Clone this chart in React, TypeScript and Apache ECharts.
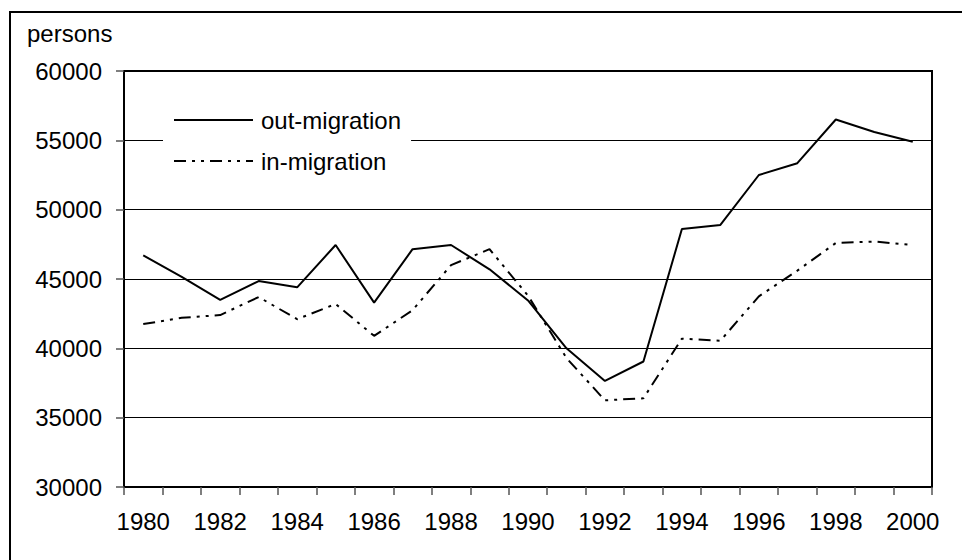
import React, { useEffect, useRef } from "react";
import * as echarts from "echarts";

const years = [
  "1980", "1981", "1982", "1983", "1984", "1985", "1986", "1987", "1988", "1989", "1990",
  "1991", "1992", "1993", "1994", "1995", "1996", "1997", "1998", "1999", "2000",
];
const outMigration = [
  46700, 45150, 43500, 44850, 44400, 47450, 43300, 47150, 47450, 45700, 43450,
  40000, 37650, 39050, 48600, 48900, 52500, 53350, 56500, 55600, 54900,
];
const inMigration = [
  41750, 42200, 42400, 43700, 42100, 43200, 40900, 42750, 46000, 47150, 43800,
  39300, 36250, 36400, 40700, 40550, 43750, 45600, 47600, 47700, 47450,
];
const yMin = 30000;
const yMax = 60000;
const yStep = 5000;

const FONT = "'Liberation Sans', Arial, sans-serif";

export default function App() {
  const ref = useRef<HTMLDivElement>(null);
  useEffect(() => {
    if (!ref.current) return;
    const chart = echarts.init(ref.current, undefined, { renderer: "svg" });
    chart.setOption({
      animation: false,
      backgroundColor: "#fff",
      textStyle: { fontFamily: FONT },
      graphic: [
        {
          type: "rect",
          shape: { x: 10, y: 12, width: 1000, height: 600 },
          style: { fill: "none", stroke: "#000", lineWidth: 2 },
          z: 0,
        },
        {
          type: "text",
          x: 27,
          y: 33,
          style: {
            text: "persons",
            fill: "#000",
            font: `24px ${FONT}`,
            textVerticalAlign: "middle",
          },
        },
      ],
      grid: {
        left: 124,
        right: 30,
        top: 71,
        bottom: 73,
        show: true,
        borderColor: "#000",
        borderWidth: 2,
        backgroundColor: "transparent",
      },
      legend: {
        orient: "vertical",
        left: 163,
        top: 100,
        backgroundColor: "#fff",
        padding: [8, 10, 8, 10],
        itemWidth: 79,
        itemHeight: 16,
        itemGap: 17,
        itemStyle: { color: "transparent", borderWidth: 0, opacity: 0 },
        textStyle: { fontSize: 24, color: "#000", fontFamily: FONT, padding: [0, 0, 0, 3] },
        data: ["out-migration", "in-migration"],
        z: 10,
      },
      xAxis: {
        type: "category",
        data: years,
        boundaryGap: true,
        axisLine: { lineStyle: { color: "#000", width: 2 } },
        axisTick: { show: true, interval: 0, length: 8, lineStyle: { color: "#555", width: 1.5 } },
        axisLabel: { interval: 1, margin: 22, fontSize: 24, color: "#000", fontFamily: FONT },
        splitLine: { show: false },
      },
      yAxis: {
        type: "value",
        min: yMin,
        max: yMax,
        interval: yStep,
        axisLine: { show: true, lineStyle: { color: "#000", width: 2 } },
        axisTick: { show: true, length: 8, lineStyle: { color: "#555", width: 1.5 } },
        axisLabel: {
          margin: 22,
          fontSize: 24,
          color: "#000",
          fontFamily: FONT,
          formatter: (v: number) => String(v),
        },
        splitLine: { show: true, lineStyle: { color: "#000", width: 1 } },
      },
      series: [
        {
          name: "out-migration",
          type: "line",
          data: outMigration,
          symbol: "none",
          lineStyle: { color: "#000", width: 2, type: "solid" },
          itemStyle: { color: "#000" },
          z: 3,
        },
        {
          name: "in-migration",
          type: "line",
          data: inMigration,
          symbol: "none",
          lineStyle: { color: "#000", width: 2, type: [12, 6, 3, 6, 3, 6] },
          itemStyle: { color: "#000" },
          z: 3,
        },
      ],
    });
    return () => chart.dispose();
  }, []);
  return <div ref={ref} style={{ width: 962, height: 560, position: "absolute", left: 0, top: 0 }} />;
}
